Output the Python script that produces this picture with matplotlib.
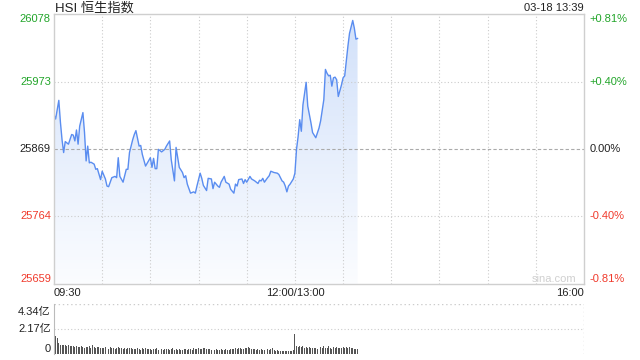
"""HSI intraday chart (sina style) recreated with matplotlib."""

import matplotlib
matplotlib.use("Agg")
import matplotlib.pyplot as plt
import numpy as np
from matplotlib.transforms import blended_transform_factory

plt.rcParams["font.family"] = ["Liberation Sans", "Noto Sans CJK SC", "DejaVu Sans"]

TITLE = "HSI 恒生指数"
STAMP = "03-18 13:39"
PREV_CLOSE = 25869
Y_TICKS = [25659, 25764, 25869, 25973, 26078]
PCT_LABELS = ["-0.81%", "-0.40%", "0.00%", "+0.40%", "+0.81%"]
X_TICKS = [0, 150, 330]
X_LABELS = ["09:30", "12:00/13:00", "16:00"]
VOL_TICKS = [0, 2.17, 4.34]
VOL_LABELS = ["0", "2.17亿", "4.34亿"]

# minutes since 09:30 (lunch break removed) and index level
price_min = [
    0, 1, 3, 4, 5, 6, 7, 9, 11, 12, 13, 14, 15, 16, 18, 19, 20, 21, 22, 23,
    25, 26, 27, 29, 30, 32, 33, 34, 36, 38, 39, 40, 41, 43, 45, 46, 47, 49, 50, 51,
    53, 54, 55, 57, 60, 61, 62, 63, 64, 65, 67, 69, 70, 72, 73, 75, 76, 78, 80, 81,
    82, 83, 85, 87, 88, 89, 91, 92, 93, 95, 96, 98, 99, 100, 102, 103, 104, 106, 107, 109,
    110, 112, 113, 114, 115, 117, 118, 119, 120, 122, 123, 125, 127, 128, 129, 130, 131, 133, 134, 135,
    137, 139, 140, 142, 143, 144, 145, 146, 147, 149, 150, 151, 152, 153, 154, 155, 157, 158, 160, 161,
    163, 165, 166, 168, 169, 170, 171, 172, 173, 174, 175, 176, 177, 179, 180, 181, 183, 184, 186, 187,
    188, 189,
]
price = [
    25922, 25915, 25944, 25910, 25883, 25863, 25880, 25876, 25891, 25890,
    25881, 25898, 25876, 25904, 25925, 25894, 25850, 25873, 25847, 25848,
    25845, 25837, 25838, 25821, 25834, 25822, 25811, 25810, 25824, 25826,
    25824, 25855, 25826, 25817, 25837, 25837, 25863, 25883, 25891, 25897,
    25873, 25874, 25860, 25842, 25855, 25840, 25854, 25838, 25838, 25868,
    25864, 25868, 25873, 25881, 25852, 25819, 25871, 25840, 25832, 25824,
    25827, 25814, 25800, 25802, 25800, 25811, 25831, 25823, 25812, 25804,
    25823, 25822, 25807, 25817, 25811, 25809, 25817, 25826, 25817, 25814,
    25806, 25800, 25814, 25811, 25821, 25822, 25815, 25821, 25817, 25826,
    25822, 25819, 25815, 25820, 25819, 25823, 25817, 25824, 25827, 25834,
    25832, 25831, 25829, 25819, 25817, 25811, 25802, 25811, 25814, 25822,
    25831, 25868, 25888, 25914, 25896, 25937, 25972, 25935, 25909, 25894,
    25886, 25901, 25912, 25945, 25992, 25986, 25982, 25983, 25966, 25979,
    25980, 25976, 25950, 25968, 25979, 25982, 26028, 26048, 26068, 26056,
    26039, 26040,
]

# volume per minute, in 亿
volume = [
    4.34, 1.55, 1.38, 0.95, 0.82, 0.78, 0.74, 0.80, 0.70, 0.76,
    0.72, 0.66, 0.70, 0.62, 0.68, 0.58, 0.64, 0.72, 0.60, 0.55,
    0.62, 0.58, 0.66, 0.56, 0.74, 0.60, 0.52, 0.58, 0.62, 0.50,
    0.55, 0.48, 0.60, 0.52, 0.46, 0.58, 0.50, 0.54, 0.44, 0.48,
    0.62, 0.56, 0.50, 0.46, 0.52, 0.44, 0.48, 0.56, 0.50, 0.42,
    0.46, 0.40, 0.50, 0.44, 0.38, 0.48, 0.42, 0.52, 0.46, 0.40,
    0.44, 0.38, 0.46, 0.42, 0.50, 0.36, 0.40, 0.44, 0.38, 0.42,
    0.46, 0.40, 0.36, 0.44, 0.48, 0.38, 0.42, 0.34, 0.40, 0.36,
    0.38, 0.44, 0.40, 0.34, 0.42, 0.46, 0.38, 0.50, 0.44, 0.40,
    0.52, 0.46, 0.42, 0.56, 0.50, 0.44, 0.40, 0.46, 0.38, 0.42,
    0.36, 0.40, 0.34, 0.38, 0.44, 0.32, 0.36, 0.40, 0.34, 0.38,
    0.42, 0.46, 0.40, 0.50, 0.44, 0.48, 0.54, 0.42, 0.46, 0.52,
    0.48, 0.58, 0.50, 0.44, 0.40, 0.46, 0.38, 0.42, 0.36, 0.40,
    0.34, 0.38, 0.48, 0.42, 0.36, 0.44, 0.50, 0.38, 0.30, 0.34,
    0.26, 0.30, 0.24, 0.28, 0.22, 0.26, 0.24, 0.28, 0.30, 0.36,
    1.70, 0.72, 0.60, 0.66, 0.58, 0.70, 0.54, 0.62, 0.50, 0.58,
    0.52, 0.48, 0.56, 0.50, 0.46, 0.54, 0.60, 0.50, 0.68, 0.56,
    0.48, 0.72, 0.52, 0.46, 0.58, 0.50, 0.62, 0.54, 0.48, 0.56,
    0.60, 0.50, 0.64, 0.52, 0.58, 0.48, 0.54, 0.46, 0.40, 0.44,
]

GREEN = "#22a52a"
RED = "#f03a2c"
LINE = "#5a8df0"
GRID = "#cccccc"
FONT = 8


def label_color(v):
    if v > PREV_CLOSE:
        return GREEN
    if v < PREV_CLOSE:
        return RED
    return "#222222"


fig = plt.figure(figsize=(6.4, 3.6), dpi=100)
ax = fig.add_axes([54 / 640, 76 / 360, 530 / 640, 270 / 360])
axv = fig.add_axes([54 / 640, 6 / 360, 530 / 640, 50 / 360])

# ---- price panel
ax.set_xlim(0, 330)
ax.set_ylim(Y_TICKS[0], Y_TICKS[-1])
for t in range(30, 330, 30):
    ax.axvline(t, color=GRID, lw=0.8, ls=(0, (1, 2)), zorder=1.5)
for v in Y_TICKS[1:-1]:
    if v == PREV_CLOSE:
        ax.axhline(v, color="#aaaaaa", lw=0.8, ls=(0, (3, 2)), zorder=1.5)
    else:
        ax.axhline(v, color=GRID, lw=0.8, ls=(0, (1, 2)), zorder=1.5)

x = np.array(price_min)
y = np.array(price)
poly = ax.fill_between(x, y, Y_TICKS[0], color="none", lw=0)
grad = np.linspace(0, 1, 256).reshape(-1, 1)
top_c = np.array([0.82, 0.88, 0.98])
bot_c = np.array([0.985, 0.99, 1.0])
img = top_c * grad + bot_c * (1 - grad)
im = ax.imshow(img[:, None, :].repeat(2, axis=1), aspect="auto", origin="lower",
               extent=[0, x[-1], Y_TICKS[0], Y_TICKS[-1]], zorder=1)
im.set_clip_path(poly.get_paths()[0], transform=ax.transData)
ax.plot(x, y, color=LINE, lw=1.0, zorder=2)

ax.set_xticks([])
ax.set_yticks([])
for s in ax.spines.values():
    s.set_color("#cfcfcf")
    s.set_linewidth(1.0)

tr = blended_transform_factory(ax.transAxes, ax.transData)
for i, v in enumerate(Y_TICKS):
    va = "center"
    if i == 0:
        va = "bottom"
    elif i == len(Y_TICKS) - 1:
        va = "top"
    c = label_color(v)
    ax.text(-0.006, v, str(v), transform=tr, ha="right", va=va, fontsize=FONT, color=c)
    ax.text(1.011, v, PCT_LABELS[i], transform=tr, ha="left", va=va, fontsize=FONT, color=c)

for t, lab, ha in zip(X_TICKS, X_LABELS, ["left", "center", "right"]):
    ax.text(t, -0.015, lab, transform=blended_transform_factory(ax.transData, ax.transAxes),
            ha=ha, va="top", fontsize=FONT, color="#222222")

ax.text(0.985, 0.02, "sina.com", transform=ax.transAxes, ha="right", va="center",
        fontsize=FONT, color="#d0d0d0")
fig.text(55 / 640, 1 - 8 / 360, TITLE, ha="left", va="center", fontsize=9.5, color="#222222")
fig.text(584 / 640, 1 - 8 / 360, STAMP, ha="right", va="center", fontsize=FONT, color="#222222")

# ---- volume panel
axv.set_xlim(0, 330)
axv.set_ylim(0, VOL_TICKS[-1])
axv.bar(np.arange(len(volume)), volume, width=0.6, color="#555555", lw=0)
axv.axhline(VOL_TICKS[1], color=GRID, lw=0.8, ls=(0, (1, 2)))
axv.axhline(VOL_TICKS[2], color=GRID, lw=1.0, ls=(0, (1, 2)))
axv.axvline(330, color=GRID, lw=1.0, ls=(0, (1, 2)))
axv.set_xticks([])
axv.set_yticks([])
for name, s in axv.spines.items():
    s.set_visible(name == "left")
axv.spines["left"].set_color("#bbbbbb")

trv = blended_transform_factory(axv.transAxes, axv.transData)
axv.text(-0.006, VOL_TICKS[0], VOL_LABELS[0], transform=trv, ha="right", va="bottom",
         fontsize=FONT, color="#222222")
axv.text(-0.006, VOL_TICKS[1], VOL_LABELS[1], transform=trv, ha="right", va="center",
         fontsize=FONT, color="#222222")
axv.text(-0.006, VOL_TICKS[2] - 0.25, VOL_LABELS[2], transform=trv, ha="right", va="top",
         fontsize=FONT, color="#222222")

fig.savefig("out.png", dpi=100)
plt.close(fig)
